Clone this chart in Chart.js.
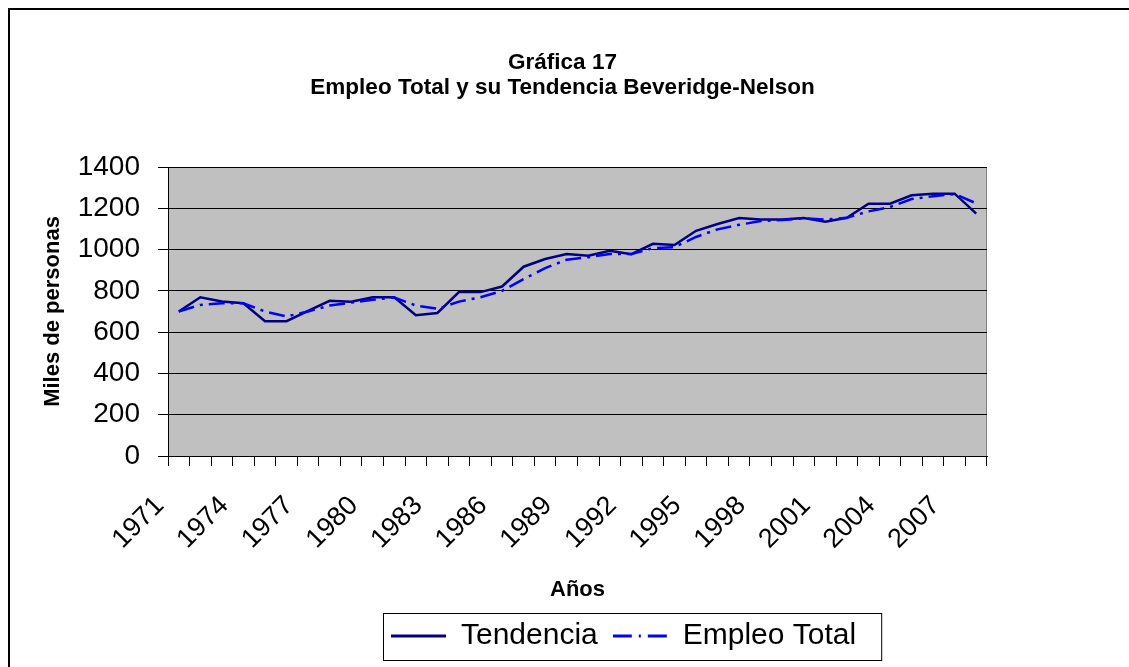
<!DOCTYPE html>
<html>
<head>
<meta charset="utf-8">
<title>Gráfica 17</title>
<script src="https://cdn.jsdelivr.net/npm/chart.js@4.4.1/dist/chart.umd.min.js"></script>
<style>
  body { margin: 0; background: #fff; }
  #wrap { width: 1129px; height: 667px; }
</style>
</head>
<body>
<div id="wrap"><canvas id="grafica" width="1129" height="667"></canvas></div>
<script>
// Data (miles de personas)
const years = [
  '1971', '1972', '1973', '1974', '1975', '1976', '1977', '1978', '1979', '1980',
  '1981', '1982', '1983', '1984', '1985', '1986', '1987', '1988', '1989', '1990',
  '1991', '1992', '1993', '1994', '1995', '1996', '1997', '1998', '1999', '2000',
  '2001', '2002', '2003', '2004', '2005', '2006', '2007', '2008'
];
const tendencia = [
  700, 769, 748, 740, 653, 653, 703, 752, 747, 769,
  769, 682, 693, 794, 794, 821, 917, 954, 978, 970,
  994, 978, 1028, 1022, 1091, 1124, 1153, 1146, 1146, 1153,
  1135, 1154, 1222, 1222, 1263, 1271, 1271, 1174
];
const empleoTotal = [
  700, 732, 740, 740, 700, 676, 700, 729, 743, 757,
  768, 729, 713, 748, 769, 800, 857, 910, 951, 963,
  978, 978, 1007, 1012, 1061, 1098, 1120, 1138, 1143, 1151,
  1145, 1154, 1185, 1206, 1245, 1258, 1269, 1224
];
const yTicks = [0, 200, 400, 600, 800, 1000, 1200, 1400];

const FONT = "Arial, 'Liberation Sans', sans-serif";

// little line samples for the legend (so the dash shows)
function makeSwatch(color, dash) {
  const c = document.createElement('canvas');
  c.width = 55;
  c.height = 6;
  const g = c.getContext('2d');
  g.strokeStyle = color;
  g.lineWidth = 3;
  g.setLineDash(dash);
  g.beginPath();
  g.moveTo(0, 3);
  g.lineTo(55, 3);
  g.stroke();
  return c;
}
const swatches = [makeSwatch('#000080', []), makeSwatch('#0000ff', [19, 7, 2, 7])];

// grey plot area + outer frame + legend box, the Excel look
const excelLook = {
  id: 'excelLook',
  afterLayout(chart) {
    // legend and title sit right of centre in the original
    const lg = chart.legend;
    const w = lg.width;
    lg.left = 376;
    lg.right = lg.left + w;
    const tb = chart.titleBlock;
    tb.left += 64;
    tb.right += 64;
  },
  beforeDraw(chart) {
    const { ctx, chartArea: a } = chart;
    ctx.save();
    ctx.fillStyle = '#c0c0c0';
    ctx.fillRect(a.left, a.top, a.right - a.left, a.bottom - a.top);
    ctx.strokeStyle = '#808080';
    ctx.lineWidth = 1;
    ctx.strokeRect(a.left + 0.5, a.top + 0.5, a.right - a.left - 1, a.bottom - a.top);
    // outer frame
    ctx.strokeStyle = '#000';
    ctx.lineWidth = 2;
    ctx.beginPath();
    ctx.moveTo(9, 700);
    ctx.lineTo(9, 9);
    ctx.lineTo(1140, 9);
    ctx.stroke();
    ctx.restore();
  },
  afterDraw(chart) {
    const boxes = chart.legend.legendHitBoxes;
    if (!boxes || !boxes.length) return;
    const first = boxes[0];
    const last = boxes[boxes.length - 1];
    const cy = first.top + first.height / 2;
    const ctx = chart.ctx;
    ctx.save();
    ctx.strokeStyle = '#000';
    ctx.lineWidth = 1;
    ctx.strokeRect(first.left - 8 + 0.5, cy - 23 + 0.5, last.left + last.width + 25 - (first.left - 8), 47);
    ctx.restore();
  }
};

const ctx = document.getElementById('grafica').getContext('2d');
const chart = new Chart(ctx, {
  type: 'line',
  data: {
    labels: years,
    datasets: [
      {
        label: 'Tendencia',
        data: tendencia,
        borderColor: '#000080',
        backgroundColor: '#000080',
        borderWidth: 2.5,
        pointRadius: 0,
        tension: 0,
        fill: false,
        order: 2
      },
      {
        label: 'Empleo Total',
        data: empleoTotal,
        borderColor: '#0000ff',
        backgroundColor: '#0000ff',
        borderWidth: 2.5,
        borderDash: [16, 6, 3, 6],
        pointRadius: 0,
        tension: 0,
        fill: false,
        order: 1
      }
    ]
  },
  options: {
    responsive: false,
    animation: false,
    layout: { padding: { left: 10, right: 142, top: 0, bottom: 6 } },
    plugins: {
      title: {
        display: true,
        text: ['Gráfica 17', 'Empleo Total y su Tendencia Beveridge-Nelson'],
        color: '#000',
        font: { family: FONT, size: 22.5, weight: 'bold', lineHeight: 1.08 },
        padding: { top: 51, bottom: 67.4 }
      },
      legend: {
        display: true,
        position: 'bottom',
        align: 'start',
        labels: {
          color: '#000',
          font: { family: FONT, size: 30 },
          usePointStyle: true,
          pointStyleWidth: 55,
          padding: 15,
          sort: (a, b) => a.datasetIndex - b.datasetIndex,
          generateLabels: function (chart) {
            const items = Chart.defaults.plugins.legend.labels.generateLabels(chart);
            items.forEach(it => { it.pointStyle = swatches[it.datasetIndex]; });
            return items;
          }
        }
      },
      tooltip: { enabled: false }
    },
    scales: {
      x: {
        offset: true,
        grid: {
          display: true,
          offset: true,
          drawOnChartArea: false,
          drawTicks: true,
          tickLength: 10,
          color: '#000'
        },
        border: { display: true, color: '#000', width: 1 },
        ticks: {
          autoSkip: false,
          minRotation: 45,
          maxRotation: 45,
          padding: 24,
          labelOffset: -19,
          color: '#000',
          font: { family: FONT, size: 27 },
          callback: function (value, index) {
            return index % 3 === 0 ? years[index] : '';
          }
        },
        title: {
          display: true,
          text: 'Años',
          color: '#000',
          font: { family: FONT, size: 22, weight: 'bold' },
          padding: { top: 0, bottom: 3 }
        },
        afterFit: function (scale) { scale.height = 150; }
      },
      y: {
        min: 0,
        max: 1400,
        grid: {
          color: '#000',
          lineWidth: 1,
          tickLength: 10
        },
        border: { display: true, color: '#000', width: 1 },
        afterBuildTicks: function (scale) {
          scale.ticks = yTicks.map(v => ({ value: v }));
        },
        ticks: {
          padding: 18,
          color: '#000',
          font: { family: FONT, size: 28 },
          callback: function (value) { return String(value); }
        },
        title: {
          display: true,
          text: 'Miles de personas',
          color: '#000',
          font: { family: FONT, size: 22, weight: 'bold' },
          padding: { top: 30, bottom: 0 }
        },
        afterFit: function (scale) { scale.width = 158; }
      }
    }
  },
  plugins: [excelLook]
});
</script>
</body>
</html>
